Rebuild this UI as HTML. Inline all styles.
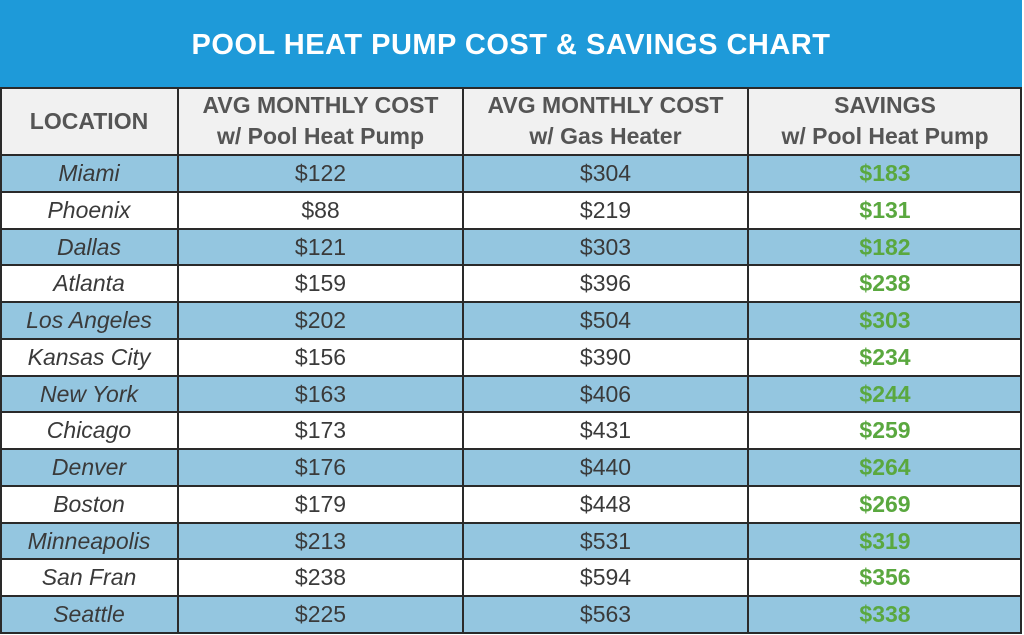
<!DOCTYPE html>
<html><head><meta charset="utf-8"><style>
html,body{margin:0;padding:0;background:#fff;}
body{width:1024px;height:635px;overflow:hidden;position:relative;font-family:"Liberation Sans",sans-serif;}
.title{position:absolute;left:0;top:0;width:1022px;height:88px;background:#1e9ad9;color:#fff;font-weight:bold;font-size:29px;text-align:center;line-height:90px;letter-spacing:0.5px;}
.hdr{position:absolute;left:0;top:88px;width:1022px;height:67px;background:#f1f1f1;}
.row{position:absolute;left:0;width:1022px;height:37px;}
.b{background:#94c6e0;}
.c{position:absolute;text-align:center;}
.hc{color:#555;font-weight:bold;font-size:23px;line-height:31px;}
.rc{font-size:23px;color:#3a3a3a;line-height:37px;top:0;}
.l{font-style:italic;}
.s{color:#5aa83f;font-weight:bold;}
.hl{position:absolute;left:0;width:1022px;height:2px;background:#2a2a2a;}
.vl{position:absolute;top:88px;width:2px;height:545px;background:#2a2a2a;}
</style></head><body>
<div class="title">POOL HEAT PUMP COST &amp; SAVINGS CHART</div>
<div class="hdr">
<div class="c hc" style="left:0;width:178px;top:18px">LOCATION</div>
<div class="c hc" style="left:178px;width:285px;top:2px">AVG MONTHLY COST<br>w/ Pool Heat Pump</div>
<div class="c hc" style="left:463px;width:285px;top:2px">AVG MONTHLY COST<br>w/ Gas Heater</div>
<div class="c hc" style="left:748px;width:274px;top:2px">SAVINGS<br>w/ Pool Heat Pump</div>
</div>
<div id="rows"></div>
<script>
var d=[["Miami","$122","$304","$183"],["Phoenix","$88","$219","$131"],["Dallas","$121","$303","$182"],["Atlanta","$159","$396","$238"],["Los Angeles","$202","$504","$303"],["Kansas City","$156","$390","$234"],["New York","$163","$406","$244"],["Chicago","$173","$431","$259"],["Denver","$176","$440","$264"],["Boston","$179","$448","$269"],["Minneapolis","$213","$531","$319"],["San Fran","$238","$594","$356"],["Seattle","$225","$563","$338"]];
var h="";var xs=[[0,178],[178,285],[463,285],[748,274]];
for(var i=0;i<13;i++){var t=155+i*36.77;
h+='<div class="row'+(i%2==0?' b':'')+'" style="top:'+t+'px">';
for(var j=0;j<4;j++){h+='<div class="c rc'+(j==0?' l':'')+(j==3?' s':'')+'" style="left:'+xs[j][0]+'px;width:'+xs[j][1]+'px">'+d[i][j]+'</div>';}
h+='</div>';}
for(var i=0;i<=13;i++){h+='<div class="hl" style="top:'+(154+i*36.77)+'px"></div>';}
h+='<div class="hl" style="top:87px"></div>';
[0,177,462,747,1020].forEach(function(x){h+='<div class="vl" style="left:'+x+'px"></div>';});
document.getElementById("rows").innerHTML=h;
</script>
</body></html>
